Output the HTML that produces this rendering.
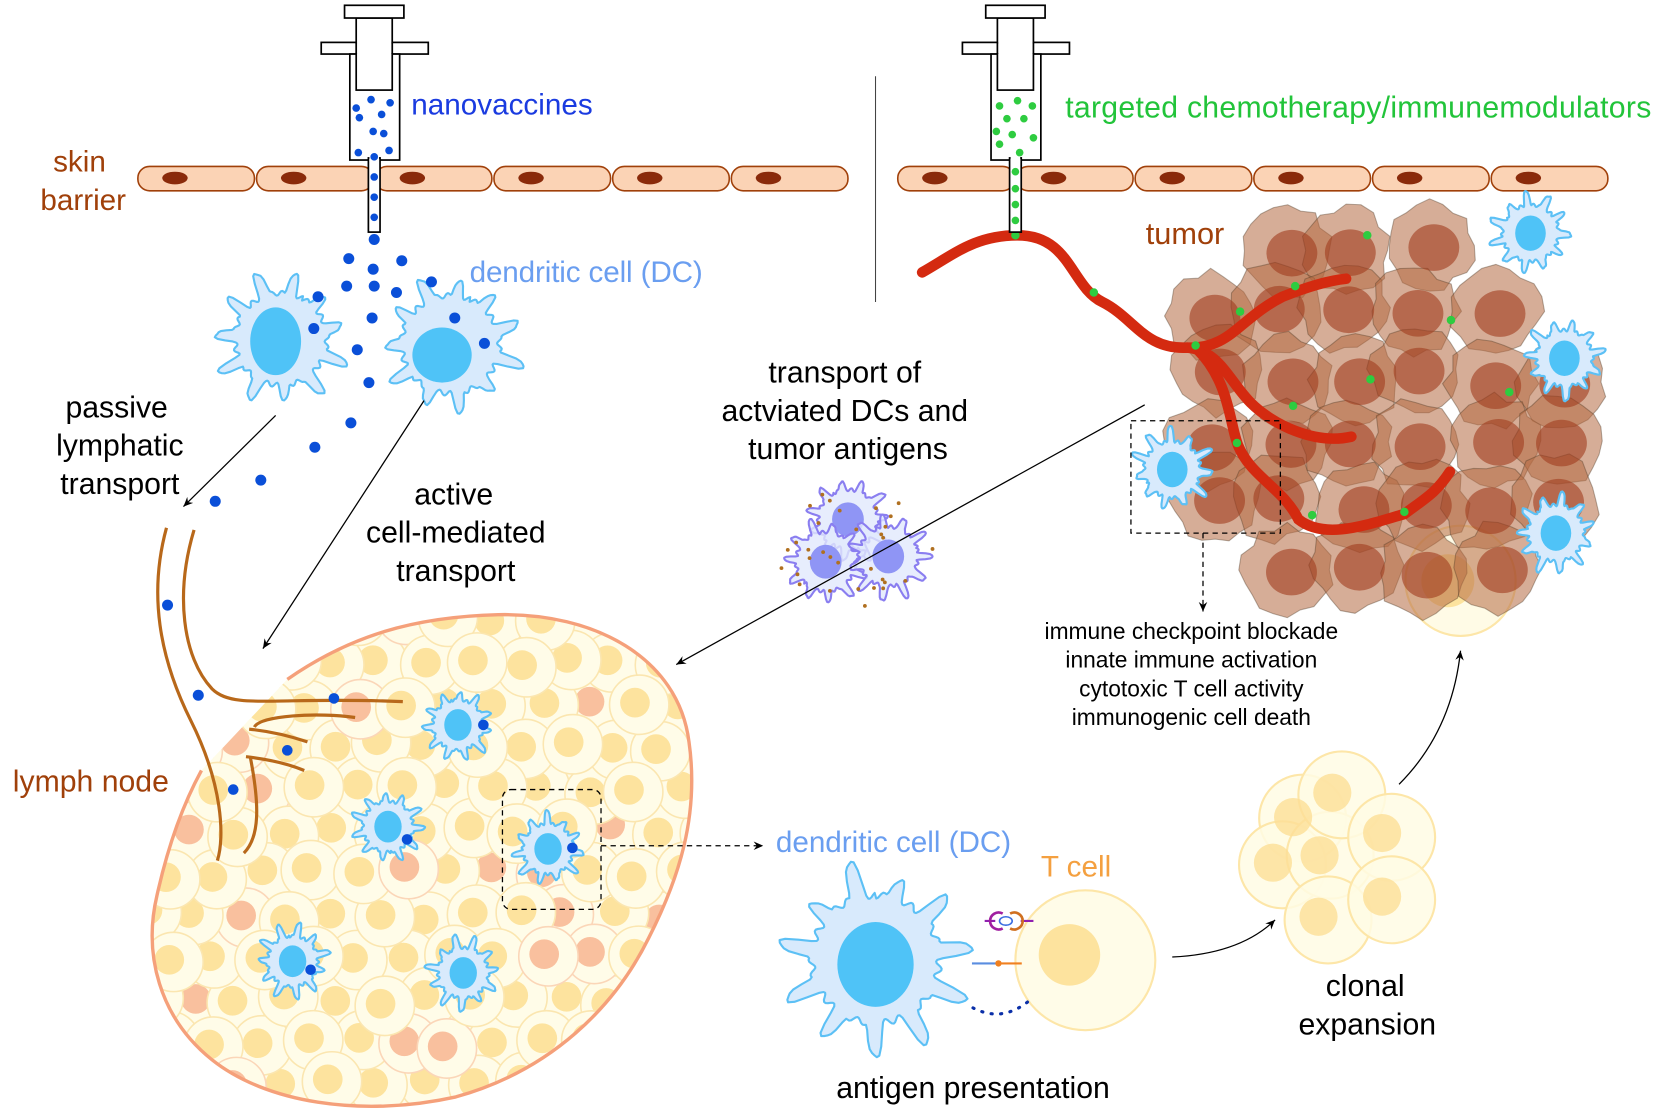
<!DOCTYPE html>
<html><head><meta charset="utf-8"><style>
html,body{margin:0;padding:0;background:#fff;}
svg{display:block;}
text{font-family:"Liberation Sans",sans-serif;}
</style></head><body>
<svg id="s" width="1662" height="1116" viewBox="0 0 1568 1053" xmlns="http://www.w3.org/2000/svg">
<defs>
<marker id="ah" markerWidth="10" markerHeight="10" refX="9" refY="5" orient="auto" markerUnits="userSpaceOnUse"><path d="M0,1 L9,5 L0,9 L3,5 Z" fill="#000"/></marker>
</defs>
<g id="bg"></g>
<g id="tum"></g>
<g id="ln"></g>
<g id="fg"></g>
<g id="tx">
<text x="388" y="108" font-size="28" fill="#1a3be0">nanovaccines</text>
<text x="1005" y="111" font-size="28.5" fill="#22c43a" textLength="553">targeted chemotherapy/immunemodulators</text>
<text x="50" y="162" font-size="28" fill="#a0400a">skin</text>
<text x="38" y="198" font-size="28" fill="#a0400a">barrier</text>
<text x="443" y="266" font-size="28" fill="#6a9ef0" textLength="220">dendritic cell (DC)</text>
<text x="1081" y="230" font-size="29" fill="#a0400a">tumor</text>
<g font-size="28.5" fill="#000" text-anchor="middle">
<text x="110" y="394">passive</text><text x="113" y="430">lymphatic</text><text x="113" y="466">transport</text>
<text x="428" y="476">active</text><text x="430" y="512">cell-mediated</text><text x="430" y="548">transport</text>
<text x="797" y="361">transport of</text><text x="797" y="397">actviated DCs and</text><text x="800" y="433">tumor antigens</text>
<text x="1288" y="940">clonal</text><text x="1290" y="976">expansion</text>
<text x="918" y="1036">antigen presentation</text>
</g>
<g font-size="21.5" fill="#000" text-anchor="middle">
<text x="1124" y="603">immune checkpoint blockade</text>
<text x="1124" y="630">innate immune activation</text>
<text x="1124" y="657">cytotoxic T cell activity</text>
<text x="1124" y="684">immunogenic cell death</text>
</g>
<text x="12" y="747" font-size="28.5" fill="#a0400a">lymph node</text>
<text x="732" y="804" font-size="28" fill="#6a9ef0" textLength="222">dendritic cell (DC)</text>
<text x="982" y="827" font-size="28" fill="#f4a040">T cell</text>
</g>
</svg>
<script>
const NS="http://www.w3.org/2000/svg";
function el(p,t,a){const e=document.createElementNS(NS,t);for(const k in a)e.setAttribute(k,a[k]);(typeof p=="string"?document.getElementById(p):p).appendChild(e);return e;}
let seed=7;function rnd(){seed=(seed*16807)%2147483647;return seed/2147483647;}
function blobPath(cx,cy,r,n,amp){
  const amps=[];for(let i=0;i<n;i++)amps.push(0.6+rnd()*0.6);
  const off=rnd()*6.28;let d="";const N=240;
  for(let i=0;i<N;i++){const a=i/N*Math.PI*2;const t=(a*n/(Math.PI*2));const k=Math.floor(t)%n;const f=t-Math.floor(t);
    const bump=Math.exp(-Math.pow((f-0.5)/0.17,4));
    const wob=0.035*Math.sin(a*n*2.5+off);
    const rr=r*(0.7+wob+amp*amps[k]*bump);
    d+=(i?"L":"M")+(cx+rr*Math.cos(a+off)).toFixed(1)+","+(cy+rr*Math.sin(a+off)).toFixed(1);}
  return d+"Z";
}
function dc(g,cx,cy,r,nx,ny,nr1,nr2,fill,stroke,nfill){
  el(g,"path",{d:blobPath(cx,cy,r,11,0.32),fill:fill||"#d8eafc",stroke:stroke||"#5cc0f5","stroke-width":2,"stroke-linejoin":"round"});
  el(g,"ellipse",{cx:cx+(nx||0),cy:cy+(ny||0),rx:nr1||r*0.38,ry:nr2||r*0.44,fill:nfill||"#4fc3f7"});
}
function line(g,x1,y1,x2,y2,extra){return el(g,"line",Object.assign({x1,y1,x2,y2,stroke:"#000","stroke-width":1.2,"marker-end":"url(#ah)"},extra||{}));}
function skin(x0){for(let i=0;i<6;i++){const x=x0+i*112;el("bg","rect",{x:x,y:157,width:110,height:23,rx:11,fill:"#fbd3b5",stroke:"#a0400a","stroke-width":1.5});el("bg","ellipse",{cx:x+35,cy:168,rx:12,ry:6,fill:"#8a2a0a"});}}
skin(130);skin(847);
function syr(cx,col,dots){
  const g="fg",s={fill:"#fff",stroke:"#000","stroke-width":1.6};
  el(g,"rect",Object.assign({x:cx-50,y:40,width:101,height:11},s));
  el(g,"rect",Object.assign({x:cx-23,y:51,width:47,height:100},s));
  el(g,"rect",Object.assign({x:cx-17,y:17,width:34,height:68},s));
  el(g,"rect",Object.assign({x:cx-28,y:5,width:56,height:12},s));
  el(g,"rect",{x:cx-18,y:41,width:36,height:9,fill:"#fff"});
  el(g,"path",{d:`M${cx-17},40 v11 M${cx+17},40 v11`,stroke:"#000","stroke-width":1.6});
  el(g,"rect",Object.assign({x:cx-5.5,y:149,width:11,height:70},s));
  el(g,"rect",{x:cx-4.5,y:148,width:9,height:5,fill:"#fff"});
  dots.forEach(p=>el(g,"circle",{cx:p[0],cy:p[1],r:3.6,fill:col}));
}
syr(353,"#0a4fd8",[[336,102],[350,94],[368,97],[339,111],[360,108],[352,124],[362,126],[338,144],[353,148],[367,142],[353,167],[353,186],[353,205]]);
syr(958,"#2ecc40",[[943,100],[960,95],[974,100],[950,112],[966,112],[940,124],[955,127],[975,130],[943,136],[962,144],[958,162],[958,178],[958,193],[958,208]]);
el("bg","line",{x1:826,y1:72,x2:826,y2:285,stroke:"#444","stroke-width":1});
seed=17;
dc("fg",265,320,62,-5,2,24,32);
dc("fg",425,325,66,-8,10,28,26);
[[353,226],[329,244],[352,254],[379,246],[327,270],[353,270],[374,276],[407,266],[300,280],[296,310],[351,300],[337,330],[429,300],[457,324],[348,361],[331,399],[297,422],[246,453],[203,473],[158,571],[187,656]].forEach(p=>el("fg","circle",{cx:p[0],cy:p[1],r:5.2,fill:"#0a4fd8"}));
line("fg",260,392,173,478);line("fg",400,378,248,612);
const LN="M271,641 C330,600 390,582 470,580 C560,578 640,620 650,700 C660,770 640,830 612,885 C580,950 520,1010 430,1035 C340,1055 250,1040 200,1000 C150,960 135,900 148,845 C158,800 172,760 190,727";
el("ln","path",{d:LN+" L271,641Z",fill:"#fffbe6"});
const clip=el("ln","clipPath",{id:"lc"});el(clip,"path",{d:LN+" L271,641Z"});
const lg=el("ln","g",{"clip-path":"url(#lc)"});
seed=3;
const pts=[];
for(let y=585;y<1060;y+=40){for(let x=140;x<680;x+=44){pts.push([x+((Math.round(y/40))%2?22:0)+rnd()*10-5,y+rnd()*10-5,rnd()<0.14]);}}
pts.sort(()=>rnd()-0.5);
pts.forEach(p=>{el(lg,"circle",{cx:p[0],cy:p[1],r:28,fill:"#fffce8",stroke:p[2]?"#fbd6b8":"#fbe6b0","stroke-width":1.5});el(lg,"circle",{cx:p[0]-4,cy:p[1]-2,r:14,fill:p[2]?"#f9c09e":"#fde39e"});});
el("ln","path",{d:LN,fill:"none",stroke:"#f5a07a","stroke-width":3.2});
["M157,498 C140,560 150,620 180,680 C210,740 212,790 205,812","M183,500 C165,560 172,620 200,650 C220,670 260,657 380,662","M240,686 C245,675 300,672 335,677","M235,688 C255,690 275,695 290,700","M232,714 C250,716 270,720 287,727","M236,714 C245,760 245,790 230,805"].forEach(d=>el("ln","path",{d:d,fill:"none",stroke:"#b8681a","stroke-width":3}));
seed=11;
dc("ln",432,684,34);dc("ln",366,780,34);dc("ln",517,801,34);dc("ln",276,907,34);dc("ln",437,918,34);
[[456,684],[384,792],[540,800],[293,915],[315,659],[271,708],[220,745]].forEach(p=>el("ln","circle",{cx:p[0],cy:p[1],r:5,fill:"#0a4fd8"}));
el("ln","rect",{x:474,y:745,width:93,height:113,rx:8,fill:"none",stroke:"#000","stroke-dasharray":"5,4","stroke-width":1.2});
line("ln",567,798,720,798,{"stroke-dasharray":"5,4"});
// tumor
el("tum","circle",{cx:1378,cy:548,r:52,fill:"#fffbe6",stroke:"#fde6a8","stroke-width":2});
el("tum","circle",{cx:1366,cy:548,r:25,fill:"#fde39e"});
seed=21;
const tc=[];
for(let y=228;y<590;y+=60){for(let x=1135;x<1500;x+=66){const cx=x+rnd()*16,cy=y+rnd()*14;
 const inside=((cx-1300)/185)**2+((cy-392)/185)**2<1.0;if(!inside)continue;tc.push([cx,cy]);}}
tc.forEach(p=>{const [cx,cy]=p;let d="";const n=20;for(let i=0;i<n;i++){const a=i/n*Math.PI*2;const rr=42*(0.88+rnd()*0.22);d+=(i?"L":"M")+(cx+rr*Math.cos(a)).toFixed(1)+","+(cy+rr*Math.sin(a)).toFixed(1);}
 el("tum","path",{d:d+"Z",fill:"rgba(180,105,65,0.55)",stroke:"rgba(80,60,40,0.4)","stroke-width":1,"stroke-linejoin":"round"});});
tc.forEach(p=>el("tum","ellipse",{cx:p[0]+4,cy:p[1]+2,rx:24,ry:22,fill:"rgba(160,60,30,0.6)"}));
["M870,257 C900,240 920,222 960,222 C1010,222 1010,270 1040,285 C1070,300 1080,330 1120,328 C1160,330 1170,300 1210,280 C1240,268 1260,264 1270,263",
 "M1120,328 C1150,330 1160,360 1180,380 C1200,400 1240,420 1275,412",
 "M1130,330 C1160,360 1160,400 1168,420 C1180,450 1210,460 1225,490 C1250,510 1290,495 1325,485 C1345,470 1355,465 1368,445"].forEach(d=>el("tum","path",{d:d,fill:"none",stroke:"#d42a10","stroke-width":10,"stroke-linecap":"round"}));
[[958,222],[1032,276],[1128,326],[1170,294],[1222,270],[1220,383],[1167,418],[1238,486],[1325,483],[1290,222],[1369,302],[1293,358],[1424,370],[1455,348]].forEach(p=>el("tum","circle",{cx:p[0],cy:p[1],r:4,fill:"#2ecc40"}));
seed=5;
dc("tum",1444,220,38);dc("tum",1476,338,38);dc("tum",1468,503,38);dc("tum",1106,443,38);
el("tum","path",{d:"M1067,397 H1208 V503 H1067 Z",fill:"none",stroke:"#000","stroke-dasharray":"5,4","stroke-width":1.2});
line("tum",1135,503,1135,577,{"stroke-dasharray":"5,4"});
seed=9;
[[800,490],[779,530],[838,525]].forEach(p=>dc("fg",p[0],p[1],40,0,0,15,16,"rgba(225,232,252,0.8)","#8a7ef0","#8f95f5"));
for(let i=0;i<32;i++){const a=rnd()*6.28,r=15+rnd()*60;el("fg","circle",{cx:805+r*Math.cos(a),cy:520+r*Math.sin(a)*0.8,r:1.8,fill:"#b07020"});}
line("fg",1080,382,638,627);
seed=13;
dc("fg",826,905,86,0,5,36,40);
el("fg","circle",{cx:1024,cy:906,r:66,fill:"#fffce8",stroke:"#fde6a8","stroke-width":2});
el("fg","circle",{cx:1009,cy:901,r:29,fill:"#fde39e"});
el("fg","path",{d:"M929,869 h10 M963,869 h12",stroke:"#9020b0","stroke-width":2});
el("fg","path",{d:"M946,862 a8,8 0 1,0 0,14",fill:"none",stroke:"#a020a0","stroke-width":2.5});
el("fg","path",{d:"M953,862 a8,8 0 1,1 0,14",fill:"none",stroke:"#d07020","stroke-width":2.5});
el("fg","ellipse",{cx:949,cy:869,rx:6,ry:4,fill:"none",stroke:"#3a6de0","stroke-width":1.5});
el("fg","path",{d:"M940,909 h24",stroke:"#f08020","stroke-width":2});
el("fg","path",{d:"M917,909 h25",stroke:"#5a8de0","stroke-width":2});
el("fg","circle",{cx:942,cy:909,r:3,fill:"#f08020"});
el("fg","path",{d:"M918,951 Q945,965 970,945",fill:"none",stroke:"#0a2fa8","stroke-width":3,"stroke-dasharray":"1,8","stroke-linecap":"round"});
el("fg","path",{d:"M1106,903 Q1170,900 1203,868",fill:"none",stroke:"#000","stroke-width":1.2,"marker-end":"url(#ah)"});
[[1229,772],[1210,816],[1255,807],[1266,750],[1313,790],[1253,868],[1313,849]].forEach(p=>el("fg","circle",{cx:p[0],cy:p[1],r:41,fill:"rgba(255,252,228,0.85)",stroke:"#fde6a8","stroke-width":2}));
[[1220,771],[1201,814],[1245,807],[1257,748],[1304,786],[1244,865],[1304,846]].forEach(p=>el("fg","circle",{cx:p[0],cy:p[1],r:18,fill:"rgba(253,222,150,0.8)"}));
el("fg","path",{d:"M1320,740 Q1370,690 1378,614",fill:"none",stroke:"#000","stroke-width":1.2,"marker-end":"url(#ah)"});
document.getElementById("s").appendChild(document.getElementById("tx"));
</script>
</body></html>
